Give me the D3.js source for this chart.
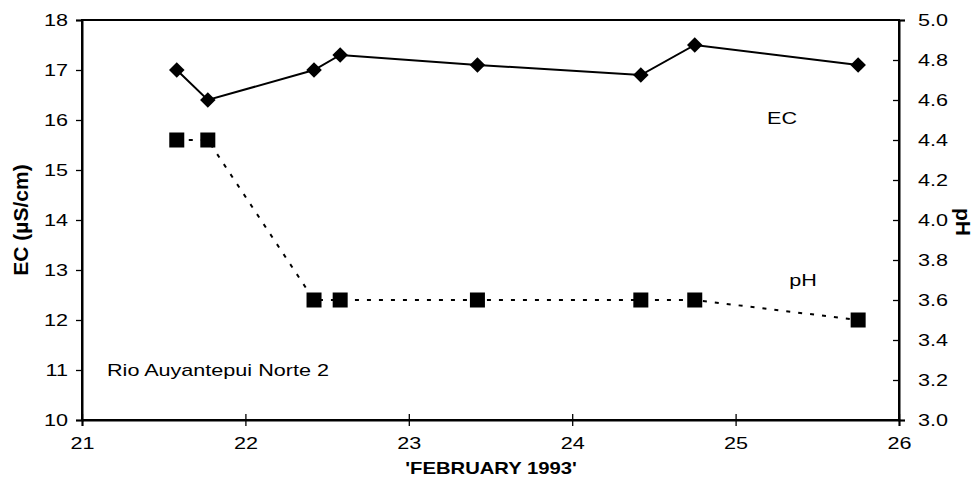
<!DOCTYPE html>
<html>
<head>
<meta charset="utf-8">
<script src="https://cdn.jsdelivr.net/npm/d3@7"></script>
<style>
  html, body { margin: 0; padding: 0; background: #fff; }
  svg { display: block; font-family: "Liberation Sans", Arial, sans-serif; }
</style>
</head>
<body>
<svg id="chart" width="977" height="496"></svg>
<script>
// Data
const days = [21.58, 21.77, 22.42, 22.58, 23.42, 24.42, 24.75, 25.75];
const ecValues = [17.0, 16.4, 17.0, 17.3, 17.1, 16.9, 17.5, 17.1];
const phValues = [4.4, 4.4, 3.6, 3.6, 3.6, 3.6, 3.6, 3.5];
const xTicks = [21, 22, 23, 24, 25, 26];
const ecTicks = [10, 11, 12, 13, 14, 15, 16, 17, 18];
const phTicks = [3.0, 3.2, 3.4, 3.6, 3.8, 4.0, 4.2, 4.4, 4.6, 4.8, 5.0];

const margin = { left: 82, right: 78, top: 20, bottom: 76 };
const W = 977, H = 496;
const svg = d3.select("#chart");

const x = d3.scaleLinear().domain([21, 26]).range([margin.left, W - margin.right]);
const yEC = d3.scaleLinear().domain([10, 18]).range([H - margin.bottom, margin.top]);
const yPH = d3.scaleLinear().domain([3, 5]).range([H - margin.bottom, margin.top]);

const fs = 17;      // font size
const sx = 1.27;    // horizontal stretch of the reference's lettering

// Plot box
svg.append("rect")
  .attr("x", x(21)).attr("y", yEC(18))
  .attr("width", x(26) - x(21)).attr("height", yEC(10) - yEC(18))
  .attr("fill", "none").attr("stroke", "#000").attr("stroke-width", 2);

// Axes
const gL = svg.append("g").attr("transform", `translate(${x(21)},0)`)
  .call(d3.axisLeft(yEC).tickValues(ecTicks).tickSize(6).tickPadding(8).tickFormat(d3.format("d")));
const gR = svg.append("g").attr("transform", `translate(${x(26)},0)`)
  .call(d3.axisRight(yPH).tickValues(phTicks).tickSize(6).tickPadding(13).tickFormat(d3.format(".1f")));
const gB = svg.append("g").attr("transform", `translate(0,${yEC(10)})`)
  .call(d3.axisBottom(x).tickValues(xTicks).tickSize(6).tickPadding(11).tickFormat(d3.format("d")));

[gL, gR, gB].forEach(g => {
  g.select(".domain").attr("stroke", "#000").attr("stroke-width", 2);
  g.selectAll(".tick line").attr("stroke", "#000").attr("stroke-width", 1.3);
  g.selectAll(".tick text").attr("fill", "#000").attr("font-size", fs)
    .attr("font-family", "'Liberation Sans', Arial, sans-serif")
    .each(function () {
      const t = d3.select(this);
      const ox = +t.attr("x") || 0;
      const oy = +t.attr("y") || 0;
      t.attr("x", 0).attr("y", 0)
        .attr("transform", `translate(${ox},${oy}) scale(${sx},1)`);
    });
});
gR.selectAll(".tick line").attr("x1", -6).attr("x2", 0);
gB.selectAll(".tick line").attr("y1", -6).attr("y2", 6);
gL.selectAll(".tick line").attr("x1", -6).attr("x2", 0);
// small extensions of the box corners, as in the reference
gR.selectAll(".tick").filter(d => d === 3 || d === 5).select("line").attr("x1", 0).attr("x2", 6);

// EC line (solid with diamonds)
const ecLine = d3.line().x((d, i) => x(days[i])).y(d => yEC(d));
svg.append("path").datum(ecValues)
  .attr("d", ecLine).attr("fill", "none").attr("stroke", "#000").attr("stroke-width", 2);
svg.selectAll(".dia").data(ecValues).enter().append("path")
  .attr("transform", (d, i) => `translate(${x(days[i])},${yEC(d)}) rotate(45)`)
  .attr("d", "M-5.5,-5.5H5.5V5.5H-5.5Z").attr("fill", "#000");

// pH line (dotted with squares)
const phLine = d3.line().x((d, i) => x(days[i])).y(d => yPH(d));
svg.append("path").datum(phValues)
  .attr("d", phLine).attr("fill", "none").attr("stroke", "#000").attr("stroke-width", 2)
  .attr("stroke-dasharray", "4 8");
svg.selectAll(".sq").data(phValues).enter().append("rect")
  .attr("x", (d, i) => x(days[i]) - 7.5).attr("y", d => yPH(d) - 7.5)
  .attr("width", 15).attr("height", 15).attr("fill", "#000");

// Annotations (stretched horizontally like the reference)
function label(txt, px, py, anchor, bold) {
  svg.append("text")
    .attr("transform", `translate(${px},${py}) scale(${sx},1)`)
    .attr("text-anchor", anchor)
    .attr("font-size", fs)
    .attr("font-weight", bold ? "bold" : "normal")
    .text(txt);
}
label("EC", 782, 124, "middle", false);
label("pH", 803, 286, "middle", false);
label("Rio Auyantepui Norte 2", 107, 376, "start", false);

// Axis titles
svg.append("text").attr("transform", `translate(28,220) rotate(-90)`)
  .attr("text-anchor", "middle").attr("font-size", 21).attr("font-weight", "bold")
  .text("EC (µS/cm)");
svg.append("text").attr("transform", `translate(956,222) rotate(90)`)
  .attr("text-anchor", "middle").attr("font-size", 21).attr("font-weight", "bold")
  .text("pH");
svg.append("text")
  .attr("transform", `translate(491,474) scale(1.19,1)`)
  .attr("text-anchor", "middle").attr("font-size", fs).attr("font-weight", "bold")
  .text("'FEBRUARY 1993'");
</script>
</body>
</html>
